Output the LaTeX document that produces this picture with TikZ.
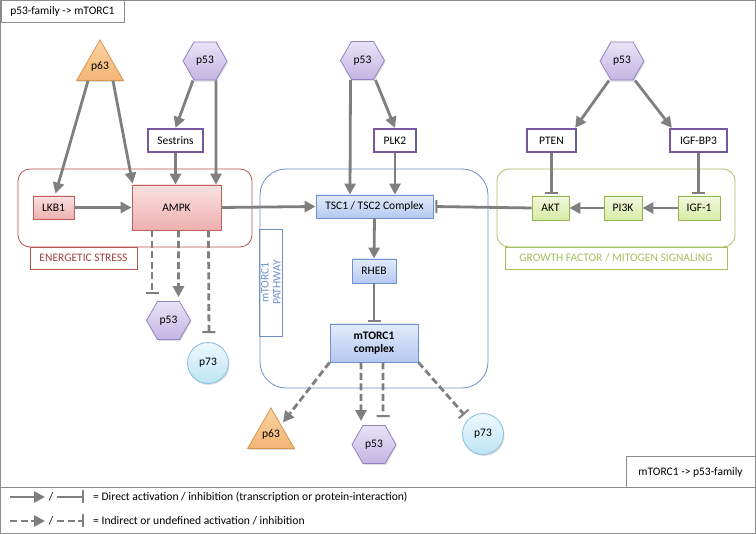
\documentclass[tikz,border=0pt]{standalone}
\usepackage{fontspec}
\setmainfont{Carlito}
\usetikzlibrary{arrows.meta,shapes.geometric,shadows}

\definecolor{arrowgray}{HTML}{7F7F7F}
\definecolor{framegray}{HTML}{8C8C8C}
\definecolor{stressred}{HTML}{B85450}
\definecolor{stresstext}{HTML}{A0403D}
\definecolor{pathblue}{HTML}{6F8FCB}
\definecolor{growgreen}{HTML}{A5C05E}
\definecolor{pinkborder}{HTML}{C0605C}
\definecolor{blueborder}{HTML}{6E8FD0}
\definecolor{greenborder}{HTML}{93B34F}
\definecolor{purpleborder}{HTML}{7558A0}
\definecolor{hexborder}{HTML}{9282C2}
\definecolor{triborder}{HTML}{D99650}
\definecolor{circborder}{HTML}{86BEDD}
\definecolor{pinktop}{HTML}{FBE1E1}
\definecolor{pinkbot}{HTML}{EDB0AF}
\definecolor{bluetop}{HTML}{E3EBFB}
\definecolor{bluebot}{HTML}{B4C8F0}
\definecolor{greentop}{HTML}{F2F9DF}
\definecolor{greenbot}{HTML}{D8EBA6}
\definecolor{hextop}{HTML}{E9E3F7}
\definecolor{hexbot}{HTML}{C3B5E3}
\definecolor{tritop}{HTML}{FBD3A3}
\definecolor{tribot}{HTML}{F2B574}
\definecolor{circtop}{HTML}{EEF9FE}
\definecolor{circbot}{HTML}{BEE3F5}

\tikzset{
  genbox/.style={draw, line width=0.8pt, inner sep=2pt, font=\fontsize{11.5}{13}\selectfont,
    drop shadow={opacity=0.25, shadow xshift=1pt, shadow yshift=-1.5pt}},
  pinkbox/.style={genbox, draw=pinkborder, top color=pinktop, bottom color=pinkbot,
    minimum height=23pt},
  bluebox/.style={genbox, draw=blueborder, top color=bluetop, bottom color=bluebot,
    minimum height=23pt},
  greenbox/.style={genbox, draw=greenborder, top color=greentop, bottom color=greenbot,
    minimum height=24pt},
  purplebox/.style={draw=purpleborder, line width=2.2pt, fill=white, inner sep=2pt,
    minimum height=23pt, font=\fontsize{11.5}{13}\selectfont},
  hexa/.style={genbox, regular polygon, regular polygon sides=6, minimum size=44pt, inner sep=0pt,
    draw=hexborder, top color=hextop, bottom color=hexbot},
  tri/.style={genbox, regular polygon, regular polygon sides=3, minimum size=54pt, inner sep=0pt,
    draw=triborder, top color=tritop, bottom color=tribot},
  circ/.style={genbox, circle, minimum size=41pt, inner sep=0pt,
    draw=circborder, top color=circtop, bottom color=circbot},
  lbl/.style={draw, line width=0.8pt, minimum height=22pt, inner sep=2pt, font=\fontsize{11.5}{13}\selectfont},
  act/.style={draw=arrowgray, line width=2.8pt, -{Triangle[length=11pt,width=11pt]}},
  inh/.style={draw=arrowgray, line width=2.8pt, -{Bar[width=13pt,line width=2pt]}},
  indact/.style={act, dash pattern=on 7pt off 3.5pt},
  indinh/.style={inh, dash pattern=on 7pt off 3.5pt}
}

\begin{document}
\begin{tikzpicture}[x=1pt,y=-1pt]
  \useasboundingbox (0,0) rectangle (756,534);
  \fill[white] (0,0) rectangle (756,534);

  % frame and titles
  \draw[framegray, line width=1pt] (0.5,0.5) rectangle (755.5,533.5);
  \draw[framegray, line width=1pt] (0,488) -- (756,488);
  \node[lbl, draw=framegray, minimum width=123pt, anchor=north west] (titlea) at (0.5,0.5) {p53-family -> mTORC1};
  \node[lbl, draw=framegray, minimum width=129pt, minimum height=31pt, anchor=south east] (titleb) at (755.5,488) {mTORC1 -> p53-family};

  % containers
  \draw[stressred, line width=0.8pt, rounded corners=12pt] (18,169) rectangle (252,247);
  \node[lbl, draw=stressred, text=stresstext, minimum width=107pt] (stresslbl) at (83.5,258) {ENERGETIC STRESS};
  \draw[pathblue, line width=0.8pt, rounded corners=26pt] (260,169) rectangle (488,388);
  \node[lbl, draw=pathblue, text=pathblue, rotate=90, minimum width=107pt, align=center,
    font=\fontsize{11.5}{12}\selectfont] (pathlbl) at (271,282.5) {mTORC1\\PATHWAY};
  \draw[growgreen, line width=0.8pt, rounded corners=12pt] (497,169) rectangle (735,247);
  \node[lbl, draw=growgreen, text=growgreen, minimum width=222pt] (growlbl) at (616,258) {GROWTH FACTOR / MITOGEN SIGNALING};

  % left: energetic stress
  \node[tri] (p63a) at (100,67) {p63};
  \node[hexa] (p53a) at (205,61) {p53};
  \node[purplebox, minimum width=55pt] (sestrins) at (175.5,140.5) {Sestrins};
  \node[pinkbox, minimum width=41pt] (lkb) at (53.5,207.5) {LKB1};
  \node[pinkbox, minimum width=89pt, minimum height=45pt] (ampk) at (176.5,207.5) {AMPK};
  \node[hexa] (p53b) at (168.5,320.5) {p53};
  \node[circ] (p73a) at (208,363) {p73};

  % middle: mTORC1 pathway
  \node[hexa] (p53m) at (362.5,60.5) {p53};
  \node[purplebox, minimum width=42pt] (plk) at (395,140.5) {PLK2};
  \node[bluebox, minimum width=117pt] (tsc) at (374.5,206.5) {TSC1 / TSC2 Complex};
  \node[bluebox, minimum width=44pt, minimum height=24pt] (rheb) at (374,271) {RHEB};
  \node[bluebox, minimum width=88pt, minimum height=38pt, align=center,
    font=\fontsize{11.5}{13}\selectfont\bfseries] (mtorc) at (374,343) {mTORC1\\complex};
  \node[tri] (p63b) at (271,435) {p63};
  \node[hexa] (p53c) at (374,444.5) {p53};
  \node[circ] (p73b) at (483,434) {p73};

  % right: growth factor signaling
  \node[hexa] (p53r) at (622,61) {p53};
  \node[purplebox, minimum width=49pt] (pten) at (551.5,140.5) {PTEN};
  \node[purplebox, minimum width=57pt] (igfbp) at (698.5,140.5) {IGF-BP3};
  \node[greenbox, minimum width=37pt] (akt) at (550.5,208) {AKT};
  \node[greenbox, minimum width=38pt] (pik) at (623,208) {PI3K};
  \node[greenbox, minimum width=42pt] (igf) at (699,208) {IGF-1};

  % p53-family -> mTORC1
  \draw[act] ([xshift=-12pt]p63a.south) -- ([xshift=2pt,yshift=2pt]lkb.north);
  \draw[act] ([xshift=13pt]p63a.south) -- ([xshift=1pt,yshift=1pt]ampk.north west);
  \draw[act] ([xshift=-12pt]p53a.south) -- (sestrins.north);
  \draw[act] ([xshift=11pt]p53a.south) -- ([xshift=39.5pt]ampk.north);
  \draw[act] (sestrins.south) -- (sestrins.south |- ampk.north);
  \draw[act] (lkb.east) -- (ampk.west);
  \draw[act] ([xshift=-12pt]p53m.south) -- ([xshift=-24.5pt]tsc.north);
  \draw[act] ([xshift=13pt]p53m.south) -- (plk.north);
  \draw[act] (plk.south) -- (plk.south |- tsc.north);
  \draw[act] (ampk.east) -- (tsc.west);
  \draw[act] (tsc.south) -- (rheb.north);
  \draw[inh, shorten >=2pt] (rheb.south) -- (mtorc.north);
  \draw[act] ([xshift=-13pt]p53r.south) -- ([xshift=-2pt]pten.north east);
  \draw[act] ([xshift=13pt]p53r.south) -- ([xshift=3pt]igfbp.north west);
  \draw[inh, shorten >=2pt] (pten.south) -- (pten.south |- akt.north);
  \draw[inh, shorten >=2pt] (igfbp.south) -- (igfbp.south |- igf.north);
  \draw[act] (igf.west) -- (pik.east);
  \draw[act] (pik.west) -- (akt.east);
  \draw[inh, shorten >=2pt] (akt.west) -- (tsc.east);

  % mTORC1 -> p53-family
  \coordinate (ampkbar) at (152,294);
  \draw[indinh] (ampk.south -| ampkbar) -- (ampkbar);
  \draw[indact, shorten >=4pt] ([xshift=2pt]ampk.south) -- ([xshift=10pt]p53b.north);
  \draw[indinh, shorten >=9pt] ([xshift=32pt]ampk.south) -- ([xshift=1pt]p73a.north);
  \draw[indact, shorten >=3pt] (mtorc.south west) -- (p63b.north east);
  \draw[indact, shorten >=4pt] ([xshift=-13pt]mtorc.south) -- ([xshift=-13pt]p53c.north);
  \draw[indinh, shorten >=8pt] ([xshift=9pt]mtorc.south) -- ([xshift=9pt]p53c.north);
  \draw[indinh, shorten >=6pt] (mtorc.south east) -- (p73b.north west);

  % legend
  \coordinate (leg1a) at (10,497);
  \coordinate (leg1b) at (45,497);
  \coordinate (leg1c) at (57,497);
  \coordinate (leg1d) at (84,497);
  \coordinate (leg2a) at (10,521);
  \coordinate (leg2b) at (45,521);
  \coordinate (leg2c) at (57,521);
  \coordinate (leg2d) at (84,521);
  \draw[act] (leg1a) -- (leg1b);
  \draw[inh] (leg1c) -- (leg1d);
  \draw[indact] (leg2a) -- (leg2b);
  \draw[indinh] (leg2c) -- (leg2d);
  \node[font=\fontsize{11.5}{12}\selectfont] (slash1) at (51,497) {/};
  \node[font=\fontsize{11.5}{12}\selectfont] (slash2) at (51,521) {/};
  \node[anchor=west, font=\fontsize{11.6}{13}\selectfont, inner sep=0pt] (leg1txt) at (93,497)
    {= Direct activation / inhibition (transcription or protein-interaction)};
  \node[anchor=west, font=\fontsize{11.6}{13}\selectfont, inner sep=0pt] (leg2txt) at (93,521)
    {= Indirect or undefined activation / inhibition};
\end{tikzpicture}
\end{document}
